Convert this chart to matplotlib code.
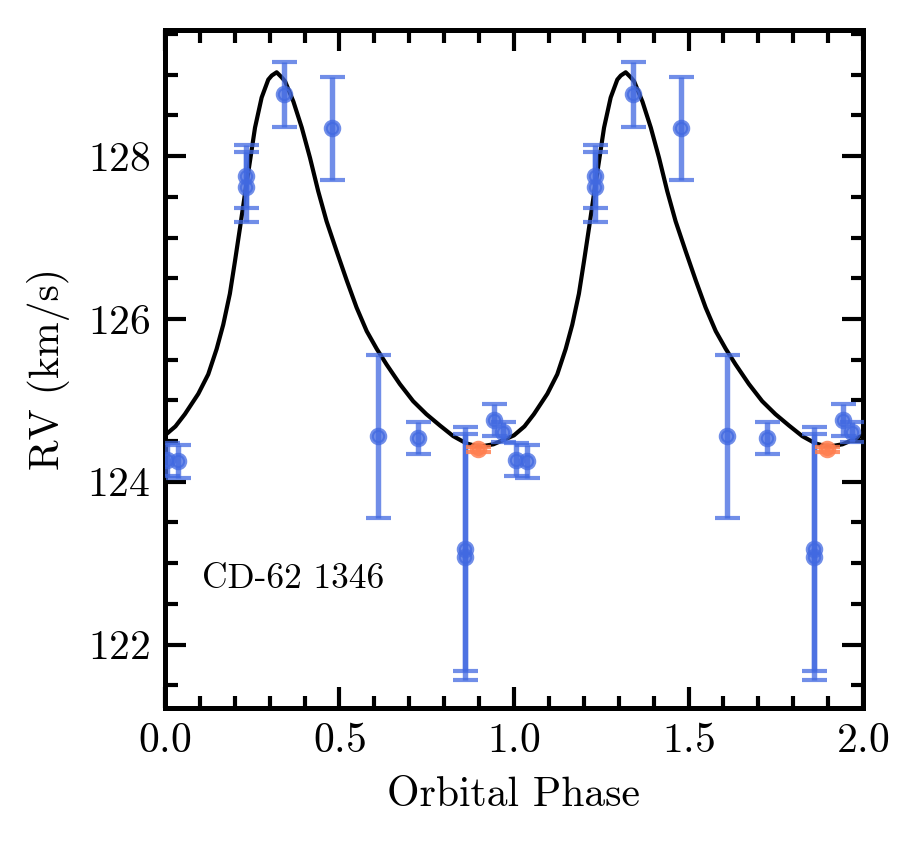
import numpy as np
import matplotlib
matplotlib.use('Agg')
import matplotlib.pyplot as plt
from matplotlib.ticker import MultipleLocator

plt.rcParams['font.family'] = 'serif'
plt.rcParams['font.serif'] = ['cmr10']
plt.rcParams['mathtext.fontset'] = 'cm'
plt.rcParams['axes.formatter.use_mathtext'] = True

# model curve, one orbital cycle
model_phase = [0.000, 0.030, 0.057, 0.0955, 0.124, 0.148, 0.167, 0.186, 0.2006, 0.215,
               0.229, 0.2436, 0.258, 0.277, 0.296, 0.306, 0.320, 0.334, 0.344,
               0.368, 0.392, 0.4155, 0.439, 0.463, 0.492, 0.521, 0.549, 0.578,
               0.607, 0.635, 0.673, 0.711, 0.749, 0.788, 0.826, 0.864, 0.900,
               0.941, 0.979, 1.000]
model_rv = [124.57, 124.68, 124.83, 125.08, 125.32, 125.63, 125.93, 126.31, 126.71, 127.12,
            127.53, 127.94, 128.35, 128.72, 128.94, 128.99, 129.03, 128.97, 128.92,
            128.67, 128.35, 127.98, 127.57, 127.20, 126.83, 126.47, 126.14, 125.85,
            125.63, 125.44, 125.20, 124.99, 124.83, 124.69, 124.56, 124.47, 124.43,
            124.46, 124.53, 124.57]

# measured RVs (blue)
ph = [0.006, 0.036, 0.232, 0.232, 0.341, 0.479, 0.611, 0.726, 0.860, 0.860, 0.943, 0.969]
rv = [124.27, 124.25, 127.75, 127.62, 128.76, 128.34, 124.56, 124.54, 123.17, 123.08, 124.76, 124.61]
rv_err = [0.20, 0.20, 0.39, 0.43, 0.40, 0.63, 1.00, 0.20, 1.50, 1.51, 0.20, 0.12]

# extra point (orange)
ph2 = [0.898]
rv2 = [124.40]
rv2_err = [0.03]

fig = plt.figure(figsize=(919/300, 844/300), dpi=300)
ax = fig.add_axes([0.1795, 0.1611, 0.7596, 0.8034])

mp = np.array(model_phase)
ax.plot(np.concatenate([mp, mp[1:] + 1]), model_rv + model_rv[1:], 'k-', lw=1.0, zorder=3)

for shift in [0, 1]:
    ax.errorbar(np.array(ph) + shift, rv, yerr=rv_err, fmt='o', color='royalblue',
                ms=3.2, elinewidth=1.3, capsize=3, capthick=1.0, alpha=0.75, zorder=4)
    ax.errorbar(np.array(ph2) + shift, rv2, yerr=rv2_err, fmt='o', color='coral',
                ms=3.2, elinewidth=1.3, capsize=3, capthick=1.0, alpha=0.85, zorder=5)

ax.text(0.053, 0.19, 'CD-62 1346', transform=ax.transAxes, fontsize=8.5, va='center')

ax.set_xlim(0, 2)
ax.set_ylim(121.22, 129.55)
ax.set_xlabel('Orbital Phase', fontsize=10)
ax.set_ylabel('RV (km/s)', fontsize=10)

ax.xaxis.set_major_locator(MultipleLocator(0.5))
ax.xaxis.set_minor_locator(MultipleLocator(0.1))
ax.yaxis.set_major_locator(MultipleLocator(2))
ax.yaxis.set_minor_locator(MultipleLocator(0.5))
ax.tick_params(which='both', direction='in', top=True, right=True, width=1.0, labelsize=10)
ax.tick_params(which='major', length=5)
ax.tick_params(which='minor', length=3)
for s in ax.spines.values():
    s.set_linewidth(1.2)

fig.savefig('out.png', dpi=300)
